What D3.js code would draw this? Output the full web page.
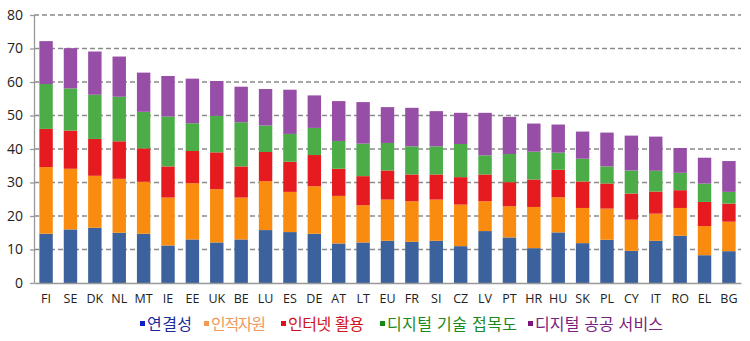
<!DOCTYPE html>
<html lang="ko">
<head>
<meta charset="UTF-8">
<title>DESI 구성 요소별 점수</title>
<script src="https://d3js.org/d3.v7.min.js"></script>
<style>
    body { margin: 0; background: #fff; font-family: "Noto Sans CJK KR", "Noto Sans", sans-serif; }
    .grid line { stroke: #8a8a8a; stroke-width: 1.3px; stroke-dasharray: 5,3; }
    .axis path, .axis line { stroke: #999; stroke-width: 1.3px; }
    .axis text { fill: #222; }
</style>
</head>
<body>
<svg width="750" height="341"></svg>
<script>
const countries = ["FI","SE","DK","NL","MT","IE","EE","UK","BE","LU","ES","DE","AT","LT","EU",
                   "FR","SI","CZ","LV","PT","HR","HU","SK","PL","CY","IT","RO","EL","BG"];

// component scores per country, in the same order as countries
const connectivity = [14.7,16.0,16.5,15.0,14.7,11.2,13.0,12.1,13.0,15.8,15.2,14.7,11.8,12.1,12.6,
                      12.3,12.6,11.0,15.5,13.6,10.4,15.1,11.9,12.9,9.6,12.6,14.1,8.3,9.5];
const humanCapital = [19.9,18.1,15.5,16.1,15.5,14.3,16.8,15.9,12.5,14.6,12.0,14.2,14.2,11.1,12.3,
                      12.1,12.3,12.4,8.9,9.3,12.3,10.5,10.5,9.3,9.3,8.1,8.3,8.7,8.8];
const internetUse = [11.4,11.4,11.0,11.2,10.0,9.3,9.6,11.0,9.3,8.7,9.0,9.3,8.1,8.7,8.7,
                     8.0,7.5,8.2,8.0,7.2,8.2,8.2,7.9,7.5,7.8,6.6,5.3,7.2,5.4];
const integration = [13.4,12.6,13.2,13.3,10.9,14.9,8.3,10.9,13.2,7.9,8.3,8.1,8.3,9.7,8.2,
                     8.4,8.4,9.9,5.7,8.4,8.3,5.1,6.8,5.1,6.9,6.2,5.2,5.5,3.5];
const publicServices = [12.8,12.0,12.9,12.0,11.7,12.1,13.3,10.4,10.6,10.9,13.2,9.7,11.9,12.4,10.7,
                        11.5,10.5,9.3,12.7,11.1,8.4,8.4,8.1,10.1,10.4,10.2,7.4,7.7,9.2];

const seriesNames = ["연결성","인적자원","인터넷 활용","디지털 기술 접목도","디지털 공공 서비스"];
const yTicks = [0,10,20,30,40,50,60,70,80];

const barColors = ["#3b629c","#f98b0f","#e51b1f","#4cad48","#974ea6"];
const legendMarks = ["#1020c8","#f29a55","#e0101a","#138a13","#7a1580"];
const legendText = ["#1d2a9a","#ee9a5e","#d0141e","#1d8a1d","#7a207e"];

const svg = d3.select("svg");
const margin = { top: 15, right: 9, bottom: 58, left: 34 };
const width = 750 - margin.left - margin.right;
const height = 341 - margin.top - margin.bottom;
const g = svg.append("g").attr("transform", `translate(${margin.left},${margin.top})`);

const rows = countries.map((c, i) => ({
    country: c,
    s0: connectivity[i], s1: humanCapital[i], s2: internetUse[i],
    s3: integration[i], s4: publicServices[i]
}));
const stack = d3.stack().keys(["s0","s1","s2","s3","s4"])(rows);

const x = d3.scaleBand().domain(countries).range([0, width]).paddingInner(0.45).paddingOuter(0.22);
const y = d3.scaleLinear().domain([0, 80]).range([height, 0]);

// dashed gridlines
g.append("g").attr("class", "grid")
  .selectAll("line").data(yTicks.filter(t => t > 0)).join("line")
    .attr("x1", 0).attr("x2", width)
    .attr("y1", d => y(d)).attr("y2", d => y(d));

// stacked bars
g.selectAll("g.layer").data(stack).join("g")
    .attr("class", "layer")
    .attr("fill", (d, i) => barColors[i])
  .selectAll("rect").data(d => d).join("rect")
    .attr("x", d => x(d.data.country))
    .attr("width", x.bandwidth())
    .attr("y", d => y(d[1]))
    .attr("height", d => y(d[0]) - y(d[1]));

// y axis
const yAxis = g.append("g").attr("class", "axis")
    .call(d3.axisLeft(y).tickValues(yTicks).tickSize(4).tickSizeOuter(0).tickPadding(7));
yAxis.selectAll("text").style("font-size", "14px").style("font-family", "Open Sans, sans-serif");

// x axis
const xAxis = g.append("g").attr("class", "axis")
    .attr("transform", `translate(0,${height})`)
    .call(d3.axisBottom(x).tickSize(0).tickPadding(11));
xAxis.selectAll("text").style("font-size", "12.5px").style("font-family", "Open Sans, sans-serif");

// legend: marker position and text width per entry
const legendX = [140, 204, 281, 380, 528];
const legendW = [45, 55, 76, 130, 128];
const legend = svg.append("g").attr("transform", "translate(0,324)");
seriesNames.forEach((name, i) => {
    legend.append("rect")
        .attr("x", legendX[i]).attr("y", -3)
        .attr("width", 5).attr("height", 5)
        .attr("fill", legendMarks[i]);
    legend.append("text")
        .attr("x", legendX[i] + 7).attr("y", 0)
        .attr("dy", "0.35em")
        .attr("fill", legendText[i])
        .attr("textLength", legendW[i])
        .attr("lengthAdjust", "spacing")
        .style("font-size", "16px")
        .text(name);
});
</script>
</body>
</html>
